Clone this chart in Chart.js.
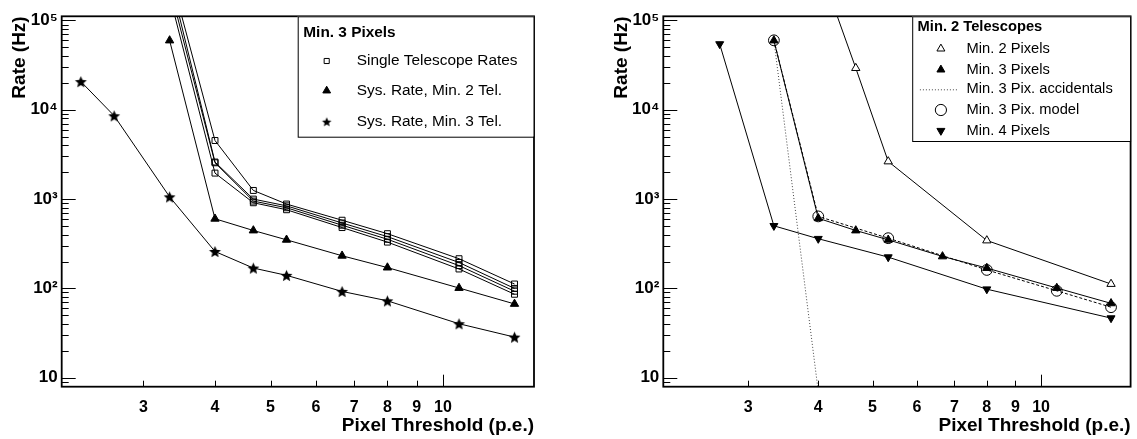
<!DOCTYPE html>
<html>
<head>
    <title>Trigger Rates vs Pixel Threshold</title>
    <script src="https://cdn.jsdelivr.net/npm/chart.js"></script>
    <style>
        * {
            margin: 0;
            padding: 0;
            box-sizing: border-box;
        }

        body {
            background: #fff;
            width: 1137px;
            height: 439px;
            overflow: hidden;
        }

        .wrap {
            position: relative;
            width: 1137px;
            height: 439px;
        }

        canvas {
            position: absolute;
            top: 0;
        }

        #leftChart {
            left: 0;
        }

        #rightChart {
            left: 570px;
        }
    </style>
</head>
<body>
<div class="wrap">
    <canvas id="leftChart" width="568" height="439"></canvas>
    <canvas id="rightChart" width="567" height="439"></canvas>
</div>

<script>
    // pixel thresholds in p.e.
    const thrAll = [2.333, 2.667, 3.333, 4, 4.667, 5.333, 6.667, 8, 10.667, 13.333];
    const thrFrom3 = [3.333, 4, 4.667, 5.333, 6.667, 8, 10.667, 13.333];

    // left panel, min. 3 pixels
    const singleTelA = [360000, 4530, 1250, 880, 580, 410, 215, 112];
    const singleTelB = [310000, 2600, 1000, 840, 540, 380, 195, 100];
    const singleTelC = [240000, 2550, 950, 800, 510, 355, 180, 93];
    const singleTelD = [190000, 1955, 910, 760, 480, 330, 165, 86];
    const sysMin2Tel = [59700, 602, 445, 350, 232, 171, 101, 67];
    const sysMin3Tel = [20700, 8570, 1060, 259, 169, 140, 92.5, 72.6, 40.2, 28.5];

    // right panel, min. 2 telescopes
    const min2PixX = [4, 4.667, 5.333, 8, 13.333];
    const min2Pix = [440000, 29300, 2640, 344, 112];
    const min3Pix = [59700, 610, 445, 350, 228, 169, 101, 68];
    const accX = [3.333, 4];
    const min3Acc = [60000, 7];
    const modelX = [3.333, 4, 5.333, 8, 10.667, 13.333];
    const min3Model = [60000, 640, 365, 161, 94, 61.6];
    const min4PixX = [2.667, 3.333, 4, 5.333, 8, 13.333];
    const min4Pix = [54500, 502, 360, 224, 98, 46.5];

    // axis ticks
    const xTickValues = [3, 4, 5, 6, 7, 8, 9, 10];
    const yDecades = [10, 100, 1000, 10000, 100000];
    const yDecadeLabels = ['10', '10\u00B2', '10\u00B3', '10\u2074', '10\u2075'];
    const minorSteps = [2, 3, 4, 5, 6, 7, 8, 9];

    let yTickValues = [8, 9];
    yDecades.forEach(d => {
        yTickValues.push(d);
        if (d < 100000) minorSteps.forEach(m => yTickValues.push(m * d));
    });

    Chart.defaults.font.family = '"Liberation Sans", Arial, Helvetica, sans-serif';
    Chart.defaults.color = '#000';

    function makeStar(r) {
        const c = document.createElement('canvas');
        const s = Math.ceil(r * 2) + 2;
        c.width = s;
        c.height = s;
        const g = c.getContext('2d');
        g.beginPath();
        for (let i = 0; i < 10; i++) {
            const a = -Math.PI / 2 + i * Math.PI / 5;
            const rr = i % 2 ? r * 0.45 : r;
            g.lineTo(s / 2 + rr * Math.cos(a), s / 2 + rr * Math.sin(a) + r * 0.1);
        }
        g.closePath();
        g.fillStyle = '#000';
        g.fill();
        return c;
    }

    const starBig = makeStar(6.2);
    const starSmall = makeStar(5);

    function series(label, xs, ys, extra) {
        return Object.assign({
            label: label,
            data: xs.map((x, i) => ({x: x, y: ys[i]})),
            borderColor: '#000',
            borderWidth: 1,
            pointBorderColor: '#000',
            pointBorderWidth: 1,
            pointBackgroundColor: '#000',
            pointRadius: 4.5,
            tension: 0
        }, extra);
    }

    const openSquare = {pointStyle: 'rect', pointRadius: 4.2, pointBackgroundColor: 'rgba(255,255,255,0)', order: 3};

    // frame, inward ticks and boxed legend
    const panelPlugin = {
        id: 'panel',
        afterDraw(chart, args, opts) {
            const ctx = chart.ctx;
            const area = chart.chartArea;
            const xs = chart.scales.x;
            const ys = chart.scales.y;
            ctx.save();
            ctx.strokeStyle = '#000';
            ctx.lineWidth = 1;
            ctx.beginPath();
            yTickValues.forEach(v => {
                const py = Math.round(ys.getPixelForValue(v)) + 0.5;
                const len = yDecades.includes(v) ? 14 : 7;
                ctx.moveTo(area.left, py);
                ctx.lineTo(area.left + len, py);
            });
            xTickValues.forEach(v => {
                const px = Math.round(xs.getPixelForValue(v)) + 0.5;
                const len = v === 10 ? 12 : 6;
                ctx.moveTo(px, area.bottom);
                ctx.lineTo(px, area.bottom - len);
            });
            ctx.stroke();

            ctx.lineWidth = 1.8;
            ctx.strokeRect(area.left, area.top, area.right - area.left, area.bottom - area.top);

            // legend box
            const lg = opts.legend;
            const bx = area.right - lg.width;
            const by = area.top;
            ctx.fillStyle = '#fff';
            ctx.fillRect(bx, by, lg.width, lg.height);
            ctx.lineWidth = 1;
            ctx.strokeRect(bx + 0.5, by + 0.5, lg.width - 0.5, lg.height);

            ctx.fillStyle = '#000';
            ctx.textBaseline = 'middle';
            ctx.textAlign = 'left';
            ctx.font = 'bold ' + lg.fontSize + 'px "Liberation Sans", Arial, sans-serif';
            ctx.fillText(lg.title, bx + lg.titleX, by + lg.titleY);
            ctx.font = lg.fontSize + 'px "Liberation Sans", Arial, sans-serif';

            lg.rows.forEach(row => {
                const ds = chart.data.datasets[row.ds];
                const cy = by + row.y;
                const mx = bx + lg.markerX;
                ctx.save();
                if (row.line) {
                    ctx.strokeStyle = ds.borderColor;
                    ctx.lineWidth = 1;
                    ctx.setLineDash(ds.borderDash || []);
                    ctx.beginPath();
                    ctx.moveTo(bx + row.line[0], cy + 0.5);
                    ctx.lineTo(bx + row.line[1], cy + 0.5);
                    ctx.stroke();
                } else {
                    ctx.strokeStyle = '#000';
                    ctx.fillStyle = row.fill;
                    ctx.lineWidth = 1;
                    Chart.helpers.drawPoint(ctx, {
                        pointStyle: row.style || ds.pointStyle,
                        radius: row.r,
                        rotation: ds.pointRotation || 0,
                        borderWidth: 1
                    }, mx, cy);
                }
                ctx.restore();
                ctx.fillStyle = '#000';
                ctx.fillText(ds.label, bx + lg.textX, cy);
            });
            ctx.restore();
        }
    };

    function axes(xMin, xMax, yTitlePad) {
        return {
            x: {
                type: 'logarithmic',
                min: xMin,
                max: xMax,
                afterFit(scale) {
                    scale.height = 52.3;
                },
                afterBuildTicks(scale) {
                    scale.ticks = xTickValues.map(v => ({value: v}));
                },
                grid: {display: false, drawTicks: false},
                border: {display: false},
                ticks: {
                    autoSkip: false,
                    maxRotation: 0,
                    padding: 11,
                    font: {size: 16, weight: 'bold'},
                    callback: v => String(v)
                },
                title: {
                    display: true,
                    text: 'Pixel Threshold (p.e.)',
                    align: 'end',
                    font: {size: 19, weight: 'bold'},
                    padding: {top: 0, bottom: 2}
                }
            },
            y: {
                type: 'logarithmic',
                min: 7.93,
                max: 111400,
                afterFit(scale) {
                    scale.width = yTitlePad.width;
                },
                afterBuildTicks(scale) {
                    scale.ticks = yTickValues.map(v => ({value: v}));
                },
                grid: {display: false, drawTicks: false},
                border: {display: false},
                ticks: {
                    autoSkip: false,
                    padding: 4,
                    font: {size: 17, weight: 'bold'},
                    callback: v => {
                        const i = yDecades.indexOf(v);
                        return i >= 0 ? yDecadeLabels[i] : '';
                    }
                },
                title: {
                    display: true,
                    text: 'Rate (Hz)',
                    align: 'end',
                    font: {size: 19, weight: 'bold'},
                    padding: {top: yTitlePad.top, bottom: 0}
                }
            }
        };
    }

    const leftChart = new Chart(document.getElementById('leftChart'), {
        type: 'line',
        data: {
            datasets: [
                series('Single Telescope Rates', thrFrom3, singleTelA, openSquare),
                series('Single Telescope Rates', thrFrom3, singleTelB, openSquare),
                series('Single Telescope Rates', thrFrom3, singleTelC, openSquare),
                series('Single Telescope Rates', thrFrom3, singleTelD, openSquare),
                series('Sys. Rate, Min. 2 Tel.', thrFrom3, sysMin2Tel, {pointStyle: 'triangle', pointRadius: 4.8, order: 2}),
                series('Sys. Rate, Min. 3 Tel.', thrAll, sysMin3Tel, {pointStyle: starBig, order: 1})
            ]
        },
        options: {
            responsive: false,
            animation: false,
            layout: {padding: {left: 0, top: 16.3, right: 34, bottom: 0}},
            scales: axes(2.16, 14.42, {width: 61.7, top: 8.3}),
            plugins: {
                legend: {display: false},
                tooltip: {enabled: false},
                panel: {
                    legend: {
                        width: 236.3,
                        height: 120.4,
                        title: 'Min. 3 Pixels',
                        titleX: 5.6,
                        titleY: 16,
                        fontSize: 15.4,
                        markerX: 29,
                        textX: 59,
                        rows: [
                            {ds: 0, y: 44.7, r: 3.6, fill: 'rgba(255,255,255,0)'},
                            {ds: 4, y: 74.4, r: 4.5, fill: '#000'},
                            {ds: 5, y: 105.4, r: 4, fill: '#000', style: starSmall}
                        ]
                    }
                }
            }
        },
        plugins: [panelPlugin]
    });

    const rightChart = new Chart(document.getElementById('rightChart'), {
        type: 'line',
        data: {
            datasets: [
                series('Min. 2 Pixels', min2PixX, min2Pix, {pointStyle: 'triangle', pointRadius: 4.8, pointBackgroundColor: '#fff', order: 2}),
                series('Min. 3 Pixels', thrFrom3, min3Pix, {pointStyle: 'triangle', pointRadius: 4.8, order: 1}),
                series('Min. 3 Pix. accidentals', accX, min3Acc, {pointRadius: 0, borderDash: [1, 2], borderColor: '#444', order: 4}),
                series('Min. 3 Pix. model', modelX, min3Model, {pointStyle: 'circle', pointRadius: 5.4, pointBackgroundColor: 'rgba(255,255,255,0)', borderDash: [3, 2], order: 3}),
                series('Min. 4 Pixels', min4PixX, min4Pix, {pointStyle: 'triangle', pointRotation: 180, pointRadius: 4.6, order: 2})
            ]
        },
        options: {
            responsive: false,
            animation: false,
            layout: {padding: {left: 0, top: 16.3, right: 1.3, bottom: 0}},
            scales: axes(2.115, 14.45, {width: 93.3, top: 40.3}),
            plugins: {
                legend: {display: false},
                tooltip: {enabled: false},
                panel: {
                    legend: {
                        width: 218.4,
                        height: 124.7,
                        title: 'Min. 2 Telescopes',
                        titleX: 5.4,
                        titleY: 11,
                        fontSize: 14.7,
                        markerX: 28.7,
                        textX: 54.4,
                        rows: [
                            {ds: 0, y: 32.4, r: 4.6, fill: '#fff'},
                            {ds: 1, y: 53.4, r: 4.6, fill: '#000'},
                            {ds: 2, y: 73, line: [7.7, 46]},
                            {ds: 3, y: 93.7, r: 5.6, fill: 'rgba(255,255,255,0)'},
                            {ds: 4, y: 114.4, r: 4.6, fill: '#000'}
                        ]
                    }
                }
            }
        },
        plugins: [panelPlugin]
    });
</script>
</body>
</html>
